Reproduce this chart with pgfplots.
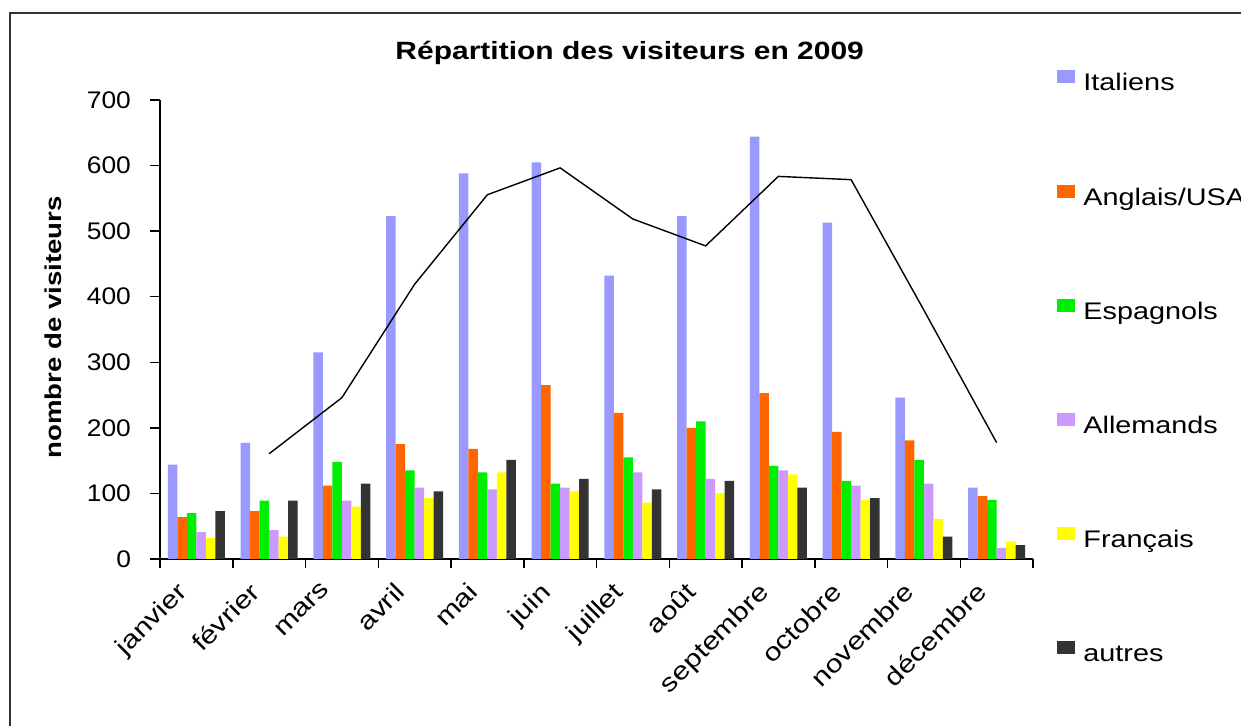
\documentclass[border=0pt]{standalone}
\usepackage{pgfplots}
\pgfplotsset{compat=1.18}
\usepackage{pgfplotstable}
\usepackage{fontspec}
\setmainfont{Liberation Sans}[FakeStretch=1.2]
\newfontfamily\tickfont{Liberation Sans}[FakeStretch=1.1]
\definecolor{cIta}{HTML}{9999FF}
\definecolor{cAng}{HTML}{FF6600}
\definecolor{cEsp}{HTML}{00EE00}
\definecolor{cAll}{HTML}{CC99FF}
\definecolor{cFra}{HTML}{FFFF00}
\definecolor{cAut}{HTML}{333333}
\pgfplotstableread{
x Ita Ang Esp All Fra Aut
0 144 64 70 41 32 73
1 177 73 89 44 34 89
2 315 112 148 89 80 115
3 523 175 135 109 93 103
4 588 168 132 106 132 151
5 605 265 115 109 103 122
6 432 223 155 132 86 106
7 523 200 210 122 100 119
8 644 253 142 135 129 109
9 513 194 119 112 90 93
10 246 181 151 115 61 34
11 109 96 90 17 27 21
}\visiteurs
\pgfplotstableread{
x MA
1 160.5
2 246
3 419
4 555.5
5 596.5
6 518.5
7 477.5
8 583.5
9 578.5
10 379.5
11 177.5
}\moyenne
\begin{document}
\begin{tikzpicture}
\useasboundingbox (0,0) rectangle (620.5pt,363pt);
\draw[line width=0.75pt, black!80] (5pt,-2pt) -- (5pt,356.5pt) -- (625pt,356.5pt);
\begin{axis}[
  at={(80pt,83.5pt)}, anchor=south west,
  scale only axis, width=436.5pt, height=229.5pt,
  ybar=0pt, bar width=4.75pt,
  xmin=-0.5, xmax=11.5, ymin=0, ymax=700,
  axis x line=bottom, axis y line=left,
  axis line style={-, line width=0.75pt},
  tick align=outside,
  major tick length=0pt, minor tick length=4.75pt,
  every minor tick/.style={line width=0.75pt, black},
  xtick={0,...,11},
  xticklabels={janvier,février,mars,avril,mai,juin,juillet,août,septembre,octobre,novembre,décembre},
  minor xtick={-0.5,0.5,...,11.5},
  ytick={0,100,...,700},
  minor ytick={0,100,...,700},
  /pgf/number format/assume math mode=true,
  xticklabel style={xshift=-10.5pt, yshift=-6pt, rotate=45, anchor=north east, font=\fontsize{12.5}{14}\selectfont},
  yticklabel style={font=\tickfont\fontsize{12}{14}\selectfont, xshift=-11pt},
  ylabel={nombre de visiteurs},
  ylabel style={at={(axis description cs:-0.1226,0.505)}, anchor=center, font=\bfseries\fontsize{11.5}{13}\selectfont},
  title={Répartition des visiteurs en 2009},
  title style={at={(axis description cs:0.538,1.0763)}, anchor=center, font=\bfseries\fontsize{12.5}{14}\selectfont},
  legend style={at={(axis description cs:1.0275,1.0654)}, anchor=north west, draw=none, fill=none,
    inner sep=0pt, row sep=44.8pt, column sep=4pt,
    nodes={inner sep=0pt, anchor=west, text height=8pt, text depth=2pt},
    font=\fontsize{12}{14}\selectfont},
  legend cell align=left,
  legend image code/.code={\fill[#1] (0pt,0.8pt) rectangle (9pt,7.3pt);},
]
\addplot[draw=none, fill=cIta] table[x=x, y=Ita] {\visiteurs};
\addplot[draw=none, fill=cAng] table[x=x, y=Ang] {\visiteurs};
\addplot[draw=none, fill=cEsp] table[x=x, y=Esp] {\visiteurs};
\addplot[draw=none, fill=cAll] table[x=x, y=All] {\visiteurs};
\addplot[draw=none, fill=cFra] table[x=x, y=Fra] {\visiteurs};
\addplot[draw=none, fill=cAut] table[x=x, y=Aut] {\visiteurs};
\addplot[sharp plot, black, line width=0.7pt, mark=none, forget plot] table[x=x, y=MA] {\moyenne};
\legend{Italiens, Anglais/USA, Espagnols, Allemands, Français, autres}
\end{axis}
\end{tikzpicture}
\end{document}
